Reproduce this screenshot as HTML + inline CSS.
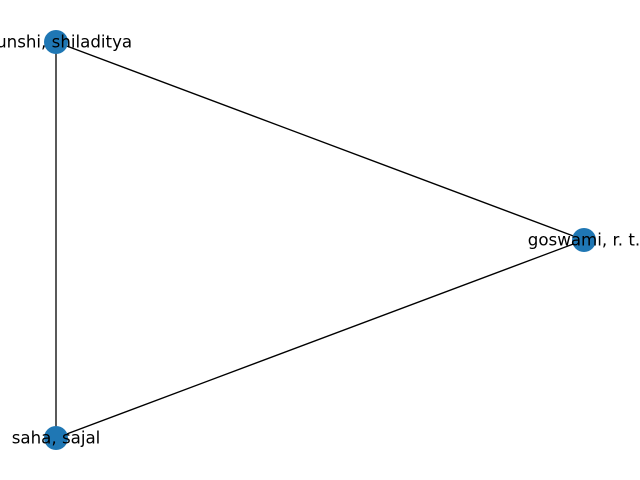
<!DOCTYPE html>
<html>
<head>
<meta charset="utf-8">
<style>
html,body{margin:0;padding:0;background:#fff;}
svg{display:block;}
text{font-family:"DejaVu Sans","Liberation Sans",sans-serif;font-size:16.67px;fill:#000;}
</style>
</head>
<body>
<svg width="640" height="480" viewBox="0 0 640 480" xmlns="http://www.w3.org/2000/svg">
<g stroke="#000" stroke-width="1.3">
<line x1="56" y1="42" x2="584" y2="240"/>
<line x1="56" y1="42" x2="56" y2="438"/>
<line x1="584" y1="240" x2="56" y2="438"/>
</g>
<g fill="#1f77b4">
<circle cx="56" cy="42" r="12"/>
<circle cx="584" cy="240" r="12"/>
<circle cx="56" cy="438" r="12"/>
</g>
<text x="56" y="42" text-anchor="middle" dominant-baseline="central">munshi, shiladitya</text>
<text x="584" y="240" text-anchor="middle" dominant-baseline="central">goswami, r. t.</text>
<text x="56" y="438" text-anchor="middle" dominant-baseline="central">saha, sajal</text>
</svg>
</body>
</html>
